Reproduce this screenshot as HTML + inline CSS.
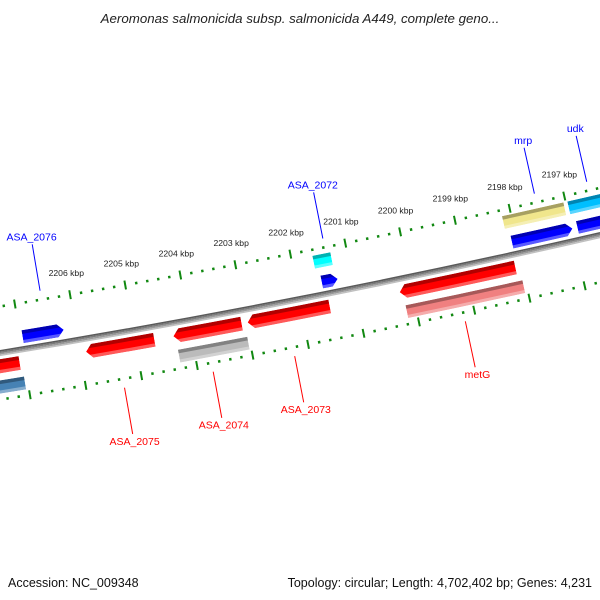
<!DOCTYPE html>
<html><head><meta charset="utf-8"><style>
html,body{margin:0;padding:0;background:#fff;}
svg{display:block;font-family:"Liberation Sans",sans-serif;}
</style></head><body>
<svg id="chart" width="600" height="600" viewBox="0 0 600 600" xmlns="http://www.w3.org/2000/svg">
<rect width="600" height="600" fill="#fff"/>
<text x="300" y="23" text-anchor="middle" font-size="13.3" font-style="italic" fill="#222">Aeromonas salmonicida subsp. salmonicida A449, complete geno...</text>
<g id="defsHolder"></g>
<g id="ticks"></g>
<g id="backbone"></g>
<g id="features"></g>
<g id="labels"></g>
<text x="8" y="587" font-size="12.5" fill="#111">Accession: NC_009348</text>
<text x="592" y="587" text-anchor="end" font-size="12.5" fill="#111">Topology: circular; Length: 4,702,402 bp; Genes: 4,231</text>
</svg>
<script>
// ---- data ----
var featNames = ["ASA_2076","ASA_2072","cds-2072b","mrp","mrp-b","udk","udk-b","cds-left","ASA_2075","ASA_2074","ASA_2073","metG","ASA_2074b","metG-b","cds-left-b"];
var featStart = [2206217,2201259,2201294,2196986,2197041,2196000,2196000,2207086,2204661,2203086,2201493,2198127,2203032,2198054,2207050];
var featEnd   = [2206959,2201548,2201620,2198090,2198163,2196896,2196968,2208000,2205892,2204317,2202977,2200226,2204281,2200172,2208000];
var featTrack = [1,1,2,1,2,1,2,-1,-1,-1,-1,-1,-2,-2,-2];
var featDir   = ["R","R","N","R","N","R","N","N","L","L","L","L","N","N","N"];
var featColor = ["#0000ff","#0000ff","#00ffff","#0000ff","#f0e68c","#0000ff","#00bfff","#ff0000","#ff0000","#ff0000","#ff0000","#ff0000","#bbbbbb","#f08080","#4682b4"];
var labelText = ["ASA_2076","ASA_2072","mrp","udk","ASA_2075","ASA_2074","ASA_2073","metG"];
var labelBp   = [2206516,2201376,2197511,2196552,2205330,2203738,2202272,2199195];
var labelSide = [1,1,1,1,-1,-1,-1,-1];
var tickStart = 2196000, tickEnd = 2208000, tickStep = 200;
var tickLabelKbp = [2197,2198,2199,2200,2201,2202,2203,2204,2205,2206];

// ---- geometry ----
var NS="http://www.w3.org/2000/svg";
var cx=-1538, cy=-9052, R=9530;
var theta0=1.3768, bp0=2202000, k=5.905e-6;
function ang(bp){return theta0+(bp-bp0)*k;}
function pt(r,a){return [cx+r*Math.cos(a), cy+r*Math.sin(a)];}
function P(p){return p[0].toFixed(2)+","+p[1].toFixed(2);}
function arcD(r,a1,a2){return "M"+P(pt(r,a1))+" A"+r+","+r+" 0 0 1 "+P(pt(r,a2));}
function mk(tag,attrs,parent){var e=document.createElementNS(NS,tag);for(var k2 in attrs)e.setAttribute(k2,attrs[k2]);parent.appendChild(e);return e;}

var defs=mk("defs",{},document.getElementById("defsHolder"));

// backbone
var bb=document.getElementById("backbone");
var a1=ang(2209000), a2=ang(2195000);
var bbCols=["#5a5a5a","#7a7a7a","#9a9a9a","#c0c0c0"];
for(var i=0;i<4;i++){
  var l=mk("path",{d:"M"+P(pt(R-2.25+i*1.5,a2))+" A"+(R-2.25+i*1.5)+","+(R-2.25+i*1.5)+" 0 0 1 "+P(pt(R-2.25+i*1.5,a1)),fill:"none",stroke:bbCols[i],"stroke-width":"1.6"},bb);
  
  
}

// ticks
var tg=document.getElementById("ticks");
[R-46,R+46].forEach(function(rr){
  for(var b=tickStart;b<=tickEnd;b+=tickStep){
    var a=ang(b), major=(b%1000===0);
    var h=major?4.5:1.3;
    var t=mk("line",{},tg);
    var p1=pt(rr-h,a),p2=pt(rr+h,a);
    t.setAttribute("x1",p1[0]);t.setAttribute("y1",p1[1]);t.setAttribute("x2",p2[0]);t.setAttribute("y2",p2[1]);
    t.setAttribute("stroke","#118811");t.setAttribute("stroke-width",major?"2":"2.4");
    
    
  }
});
tickLabelKbp.forEach(function(kb){
  var p=pt(R-46-22,ang(kb*1000));
  var t=mk("text",{x:p[0].toFixed(1),y:(p[1]+3).toFixed(1),"text-anchor":"middle","font-size":"8.6",fill:"#222"},tg);
  t.textContent=kb+" kbp";
  
  
});

// features
var fg=document.getElementById("features");
var trackR={"1":[R-19,R-6],"2":[R-40,R-27],"-1":[R+6,R+20],"-2":[R+27,R+40]};
for(var f=0;f<featNames.length;f++){
  var rr=trackR[String(featTrack[f])], r1=rr[0], r2=rr[1], rm=(r1+r2)/2;
  var s=ang(featStart[f]), e=ang(featEnd[f]), hd=110*k;
  if(e-s<hd*1.5) hd=(e-s)*0.4;
  var d;
  if(featDir[f]==="R"){
    d="M"+P(pt(rm,s))+" L"+P(pt(r1,s+hd))+" A"+r1+","+r1+" 0 0 1 "+P(pt(r1,e))+" L"+P(pt(r2,e))+" A"+r2+","+r2+" 0 0 0 "+P(pt(r2,s+hd))+" Z";
  } else if(featDir[f]==="L"){
    d="M"+P(pt(r1,s))+" A"+r1+","+r1+" 0 0 1 "+P(pt(r1,e-hd))+" L"+P(pt(rm,e))+" L"+P(pt(r2,e-hd))+" A"+r2+","+r2+" 0 0 0 "+P(pt(r2,s))+" Z";
  } else {
    d="M"+P(pt(r1,s))+" A"+r1+","+r1+" 0 0 1 "+P(pt(r1,e))+" L"+P(pt(r2,e))+" A"+r2+","+r2+" 0 0 0 "+P(pt(r2,s))+" Z";
  }
  var cp=mk("clipPath",{id:"clip"+f},defs);
  mk("path",{d:d},cp);
  var g=mk("g",{"clip-path":"url(#clip"+f+")"},fg);
  
  
  mk("path",{d:d,fill:featColor[f]},g);
  var th=(r2-r1);
  mk("path",{d:arcD(r1+th*0.14,s-0.01,e+0.01),stroke:"#000","stroke-opacity":"0.3","stroke-width":(th*0.28).toFixed(2),fill:"none"},g);
  mk("path",{d:arcD(r2-th*0.12,s-0.01,e+0.01),stroke:"#fff","stroke-opacity":"0.35","stroke-width":(th*0.24).toFixed(2),fill:"none"},g);
}

// labels
var lg=document.getElementById("labels");
for(var j=0;j<labelText.length;j++){
  var a=ang(labelBp[j]), sd=labelSide[j];
  var col=sd>0?"#0000ff":"#ff0000";
  var pa=pt(R-sd*55,a), pb=pt(R-sd*102,a);
  var ln=mk("line",{x1:pa[0],y1:pa[1],x2:pb[0],y2:pb[1],stroke:col,"stroke-width":"1"},lg);
  
  
  var pl=pt(R-sd*(sd>0?106:113),a);
  var tx=mk("text",{x:pl[0].toFixed(1),y:pl[1].toFixed(1),"text-anchor":"middle","font-size":"10.5",fill:col},lg);
  tx.textContent=labelText[j];
  
  
}
</script>
</body></html>
